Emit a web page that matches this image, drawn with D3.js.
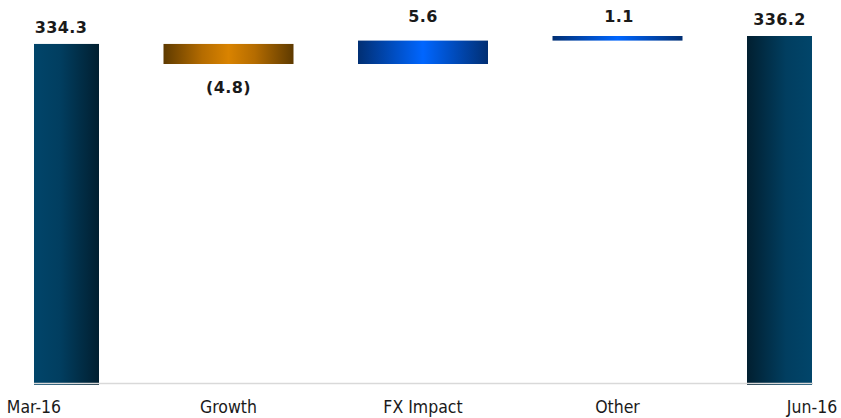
<!DOCTYPE html>
<html><head><meta charset="utf-8">
<script src="https://cdn.jsdelivr.net/npm/d3@7/dist/d3.min.js"></script>
<style>body{margin:0;background:#fff}svg{display:block}</style>
</head><body><div id="c"></div>
<script>
const categories = ["Mar-16","Growth","FX Impact","Other","Jun-16"];
const values = [334.3, -4.8, 5.6, 1.1, 336.2];
const kinds = ["total","delta","delta","delta","total"];
const valueLabels = ["334.3","(4.8)","5.6","1.1","336.2"];

const W=841,H=418;
const svg=d3.select("#c").append("svg").attr("width",W).attr("height",H);
const defs=svg.append("defs");
function grad(id,stops){const g=defs.append("linearGradient").attr("id",id).attr("x1","0%").attr("x2","100%").attr("y1","0%").attr("y2","0%");
stops.forEach(s=>g.append("stop").attr("offset",s[0]).attr("stop-color",s[1]));}
grad("gL",[["0%","#01456a"],["40%","#013e60"],["100%","#011f30"]]);
grad("gR",[["0%","#011f30"],["60%","#013e60"],["100%","#01456a"]]);
grad("gO",[["0%","#5e3a00"],["30%","#b56c00"],["50%","#d98300"],["70%","#b56c00"],["100%","#5e3a00"]]);
grad("gB",[["0%","#012f73"],["30%","#0050c8"],["50%","#0066ff"],["70%","#0050c8"],["100%","#012f73"]]);

const x=d3.scalePoint().domain(categories).range([34,812]);
const y=d3.scaleLinear().domain([252.7,336.2]).range([385,36]);

let run=0; const bars=[];
categories.forEach((c,i)=>{
  if(kinds[i]==="total"){bars.push({c,lo:y.domain()[0],hi:values[i],v:values[i],i});run=values[i];}
  else{const a=run,b=run+values[i];bars.push({c,lo:Math.min(a,b),hi:Math.max(a,b),v:values[i],i});run=b;}
});
const mid=130, half=65;
bars.forEach(b=>{
  let x0,w,fill;
  if(b.i===0){x0=x(b.c);w=half;fill="url(#gL)";}
  else if(b.i===categories.length-1){x0=x(b.c)-half;w=half;fill="url(#gR)";}
  else{x0=x(b.c)-mid/2;w=mid;fill=b.v<0?"url(#gO)":"url(#gB)";}
  b.x0=x0;b.w=w;
  svg.append("rect").attr("x",x0).attr("y",y(b.hi)).attr("width",w).attr("height",y(b.lo)-y(b.hi)).attr("fill",fill);
});
svg.append("line").attr("x1",34).attr("x2",813).attr("y1",383.5).attr("y2",383.5).attr("stroke","#d9d9d9").attr("stroke-width",1.5);
bars.forEach(b=>{
  const cx=b.x0+b.w/2;
  let ty;
  if(kinds[b.i]==="total") ty=y(b.hi)-11;
  else if(b.v<0) ty=y(b.lo)+29;
  else ty=22;
  svg.append("text").attr("x",b.i===0?61:(b.i===3?619:cx)).attr("y",ty).attr("text-anchor","middle")
   .attr("font-family","DejaVu Sans").attr("font-weight","bold").attr("font-size","16px").attr("letter-spacing","0.4px").attr("fill","#1a1a1a").text(valueLabels[b.i]);
});
categories.forEach(c=>{
  svg.append("text").attr("x",x(c)).attr("y",413).attr("text-anchor","middle")
   .attr("font-family","DejaVu Sans Condensed, DejaVu Sans").attr("font-stretch","condensed").attr("font-size","17.5px").attr("fill","#1a1a1a").text(c);
});
</script></body></html>
